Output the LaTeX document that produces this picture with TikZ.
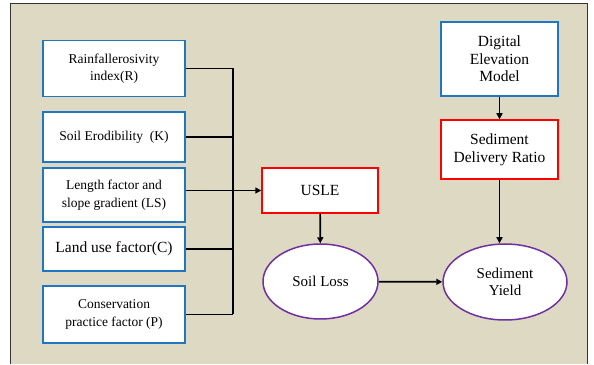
\documentclass[tikz,border=0pt]{standalone}
\usepackage{fontspec}
\setmainfont{Liberation Serif}
\usetikzlibrary{positioning,arrows.meta,shapes.geometric}

\definecolor{bgtan}{HTML}{DDD9C3}
\definecolor{boxblue}{HTML}{1F77C4}
\definecolor{boxred}{HTML}{FF0000}
\definecolor{ovpurple}{HTML}{7030A0}

\tikzset{
  factor/.style={draw=boxblue, line width=1.5pt, fill=white, minimum width=142pt,
    align=center, inner sep=2pt, font=\fontsize{13.5}{17.5}\selectfont},
  model/.style={draw=boxred, line width=1.5pt, fill=white, minimum width=117pt,
    align=center, inner sep=2pt, font=\fontsize{15.5}{18}\selectfont},
  result/.style={ellipse, draw=ovpurple, line width=1.5pt, fill=white, inner sep=0pt,
    align=center, font=\fontsize{15}{17.5}\selectfont},
  link/.style={line width=1.7pt},
  flow/.style={link, -{Triangle[length=6pt,width=6pt]}}
}

\begin{document}
\begin{tikzpicture}[x=1pt,y=1pt]
    \useasboundingbox (0,0) rectangle (594,364);
    % background frame
    \fill[bgtan] (10,0) rectangle (587,360);
    \draw[line width=1pt, black!80] (10,0) -- (10,360) -- (587,360) -- (587,0);

    % input factors
    \node[factor, minimum height=56pt] (f1) at (114,295.5) {Rainfallerosivity\\index(R)};
    \node[factor, minimum height=50pt] (f2) at (114,227) {Soil Erodibility~~(K)};
    \node[factor, minimum height=54pt] (f3) at (114,169) {Length factor and\\slope gradient (LS)};
    \node[factor, minimum height=44pt, font=\fontsize{15.5}{18}\selectfont] (f4) at (114,115) {Land use factor(C)};
    \node[factor, minimum height=57pt] (f5) at (114,49.5) {Conservation\\practice factor (P)};

    % models
    \node[model, minimum width=116pt, minimum height=45pt] (usle) at (320,173.5) {USLE};
    \node[factor, minimum width=117pt, minimum height=74pt, font=\fontsize{15.5}{17.5}\selectfont] (dem) at (499.5,305) {Digital\\Elevation\\Model};
    \node[model, minimum height=59pt] (sdr) at (499.5,214.5) {Sediment\\Delivery Ratio};

    % outputs
    \node[result, minimum width=115pt, minimum height=75pt] (loss) at (320.5,82.5) {Soil Loss};
    \node[result, minimum width=124pt, minimum height=76pt] (yield) at (505,82) {Sediment\\Yield};

    % collecting bus
    \coordinate (bus) at (233,0);
    \draw[link] (f1.east) -- (f1.east -| bus);
    \draw[link] (f2.east) -- (f2.east -| bus);
    \draw[link] (f3.east |- usle) -- (bus |- usle);
    \draw[link] (f4.east) -- (f4.east -| bus);
    \draw[link] (f5.east) -- (f5.east -| bus);
    \draw[link] (f1.east -| bus) -- (f5.east -| bus);
    \draw[flow] (bus |- usle.west) -- (usle.west);

    \draw[flow] (usle) -- (loss);
    \draw[flow] (loss) -- (yield);
    \draw[flow] (dem) -- (sdr);
    \draw[flow] (sdr) -- (sdr |- yield.north);
\end{tikzpicture}
\end{document}
